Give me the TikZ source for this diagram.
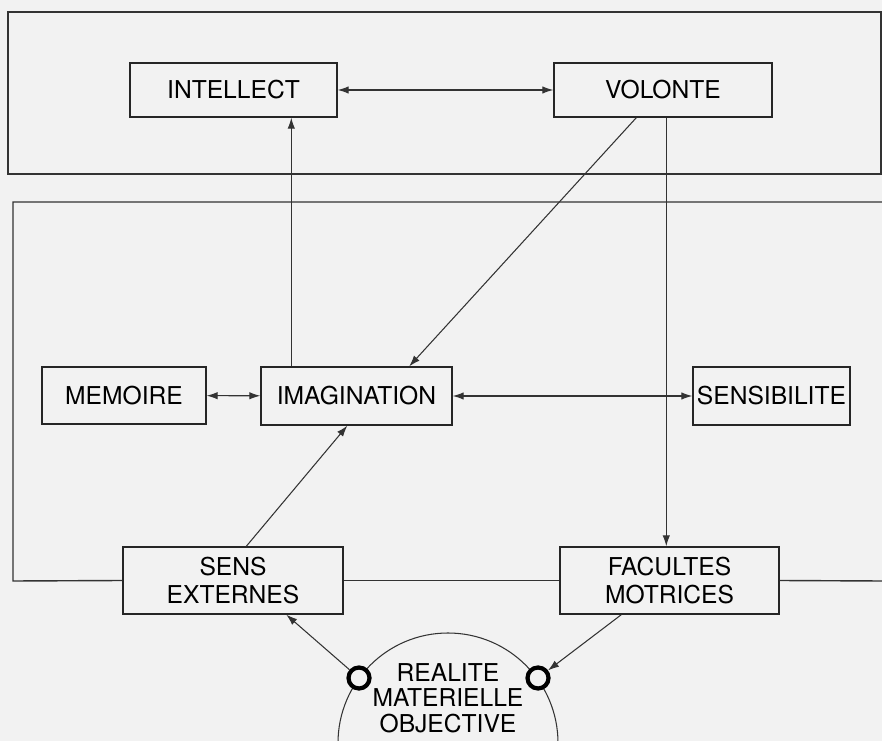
\documentclass[tikz,border=0pt]{standalone}
\usepackage{fontspec}
\setmainfont{TeX Gyre Heros}
\usetikzlibrary{arrows.meta}
\begin{document}
\begin{tikzpicture}[
  box/.style={draw=black!85, line width=0.8pt, fill=black!5, inner sep=0pt, align=center,
              font=\fontsize{14}{15.5}\selectfont},
  arr/.style={draw=black!80, line width=0.6pt, -{Latex[length=2.2mm,width=1.5mm]}},
  ring/.style={draw=black, circle, line width=2.4pt, minimum size=0.42cm, inner sep=0pt, fill=black!5}]
\fill[black!5] (0,0) rectangle (17.64,-14.82);
\path[use as bounding box] (0,0) rectangle (17.64,-14.82);

% upper frame
\draw[black!80, line width=0.8pt] (0.16,-0.24) rectangle (17.62,-3.48);
\node[box, minimum width=4.14cm, minimum height=1.08cm] (intellect) at (4.67,-1.80) {INTELLECT};
\node[box, minimum width=4.36cm, minimum height=1.08cm] (volonte) at (13.26,-1.80) {VOLONTE};
\draw[arr, {Latex[length=2.2mm,width=1.5mm]}-{Latex[length=2.2mm,width=1.5mm]}] (intellect) -- (volonte);

% lower frame
\node[box, minimum width=3.28cm, minimum height=1.14cm] (memoire) at (2.48,-7.91) {MEMOIRE};
\node[box, minimum width=3.82cm, minimum height=1.16cm] (imagination) at (7.13,-7.92) {IMAGINATION};
\node[box, minimum width=3.14cm, minimum height=1.16cm] (sensibilite) at (15.43,-7.92) {SENSIBILITE};
\node[box, minimum width=4.40cm, minimum height=1.34cm] (sens) at (4.66,-11.61) {SENS\\EXTERNES};
\node[box, minimum width=4.38cm, minimum height=1.34cm] (facultes) at (13.39,-11.61) {FACULTES\\MOTRICES};
\coordinate (frameNE) at (17.64,-4.04);
\coordinate (frameNW) at (0.26,-4.04);
\coordinate (frameSW) at (0.26,-11.62);
\coordinate (frameSE) at (17.64,-11.62);
\draw[black!80, line width=0.8pt] (frameNE) -- (frameNW) -- (frameSW) -- (sens.west);
\draw[black!80, line width=0.8pt] (sens.east) -- (facultes.west);
\draw[black!80, line width=0.8pt] (facultes.east) -- (frameSE);

\draw[arr, {Latex[length=2.2mm,width=1.5mm]}-{Latex[length=2.2mm,width=1.5mm]}] (memoire) -- (imagination);
\draw[arr, {Latex[length=2.2mm,width=1.5mm]}-{Latex[length=2.2mm,width=1.5mm]}] (imagination) -- (sensibilite);
\draw[arr] ([xshift=6.2mm]imagination.north west) -- ([xshift=6.2mm]imagination.north west |- intellect.south);
\draw[arr] ([xshift=16.6mm]volonte.south west) -- ([xshift=29.8mm]imagination.north west);
\draw[arr] ([xshift=22.6mm]volonte.south west) -- ([xshift=22.6mm]volonte.south west |- facultes.north);
\draw[arr] ([xshift=24.8mm]sens.north west) -- ([xshift=17.4mm]imagination.south west);

% realite materielle objective
\coordinate (realite) at (8.96,-14.86);
\draw[black!80, line width=0.6pt] ([xshift=2.2cm]realite) arc[start angle=0, end angle=180, radius=2.2cm];
\node[ring] (ringL) at (7.18,-13.56) {};
\node[ring] (ringR) at (10.76,-13.56) {};
\node[anchor=north, inner sep=0pt, align=center, font=\fontsize{14}{14.6}\selectfont] (objet) at (8.96,-13.26)
  {REALITE\\MATERIELLE\\OBJECTIVE};
\draw[arr] (ringL) -- ([xshift=32.8mm]sens.south west);
\draw[arr] ([xshift=12.4mm]facultes.south west) -- (ringR);
\end{tikzpicture}
\end{document}
